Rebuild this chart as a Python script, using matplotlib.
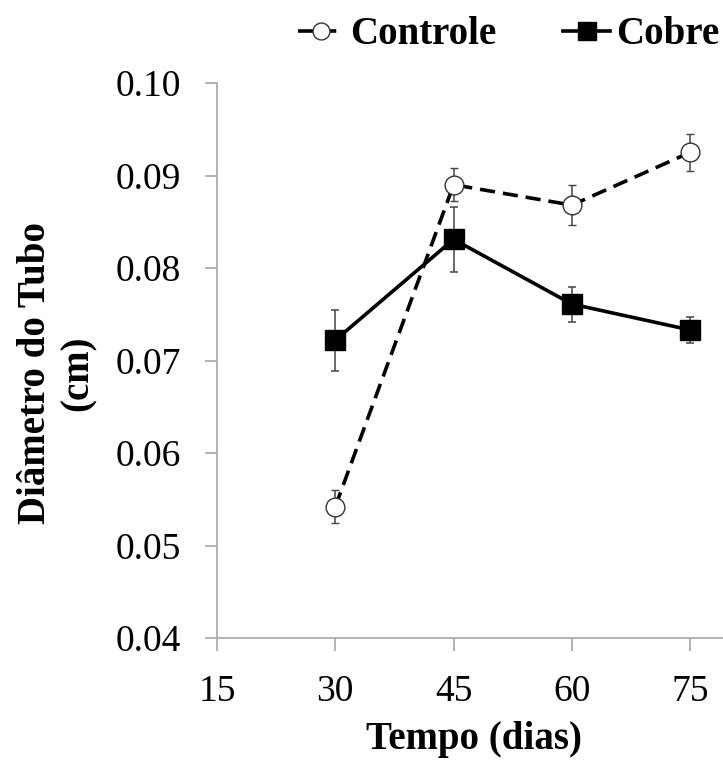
import matplotlib
matplotlib.use("Agg")
import matplotlib.pyplot as plt

# ---------------------------------------------------------------------------
# Data
# ---------------------------------------------------------------------------
dias = [30, 45, 60, 75]
controle = [0.0542, 0.0890, 0.0868, 0.0925]
controle_err = [0.0018, 0.0018, 0.0022, 0.0020]
cobre = [0.0722, 0.0831, 0.0761, 0.0733]
cobre_err = [0.0033, 0.0035, 0.0019, 0.0014]

x_ticks = [15, 30, 45, 60, 75]
y_ticks = [0.04, 0.05, 0.06, 0.07, 0.08, 0.09, 0.10]

plt.rcParams["font.family"] = ["Liberation Serif", "DejaVu Serif"]

W, H = 723, 760
fig = plt.figure(figsize=(W / 100, H / 100), dpi=100)
ax = fig.add_axes([217 / W, 1 - 638 / H, 1 - 217 / W, (638 - 83) / H])

spine_col = "#a6a6a6"
err_col = "#444444"

ctrl = ax.errorbar(
    dias, controle, yerr=controle_err,
    color="black", linestyle=(0, (4.2, 2.2)), linewidth=2.6,
    marker="o", markersize=13.5, markerfacecolor="white",
    markeredgecolor="#333333", markeredgewidth=1.0,
    ecolor=err_col, elinewidth=1.1, capsize=3, capthick=1.1,
    zorder=3,
)
cobr = ax.errorbar(
    dias, cobre, yerr=cobre_err,
    color="black", linestyle="-", linewidth=2.6,
    marker="s", markersize=14, markerfacecolor="black",
    markeredgecolor="black",
    ecolor=err_col, elinewidth=1.1, capsize=3, capthick=1.1,
    zorder=2,
)

ax.set_xlim(15, 15 + (W - 217) / (118.3 / 15))
ax.set_ylim(0.04, 0.10)
ax.set_xticks(x_ticks)
ax.set_yticks(y_ticks)
ax.set_yticklabels([f"{v:.2f}" for v in y_ticks])

for side in ("top", "right"):
    ax.spines[side].set_visible(False)
for side in ("left", "bottom"):
    ax.spines[side].set_color(spine_col)
    ax.spines[side].set_linewidth(1.2)
    ax.spines[side].set_clip_on(False)

ax.tick_params(axis="both", direction="out", length=9, width=1.2,
               color=spine_col, labelsize=27, pad=17)

fig.text(474 / W, 1 - 749 / H, "Tempo (dias)", fontsize=28,
         fontweight="bold", ha="center", va="baseline")
fig.text(57 / W, 1 - 373 / H, "Diâmetro do Tubo\n(cm)", fontsize=28,
         fontweight="bold", ha="center", va="center", rotation=90,
         multialignment="center", linespacing=1.2)

# legend handles without the error bars
fig.legend(
    [ctrl[0], cobr[0]], ["Controle", "Cobre"],
    loc="center right", bbox_to_anchor=(1.0, 1 - 35 / H), ncol=2,
    frameon=False, prop={"size": 28, "weight": "bold"},
    handlelength=1.2, handletextpad=0.15, columnspacing=1.72,
    borderaxespad=0.0, borderpad=0.1, markerscale=0.9,
)

fig.savefig("out.png", dpi=100)
